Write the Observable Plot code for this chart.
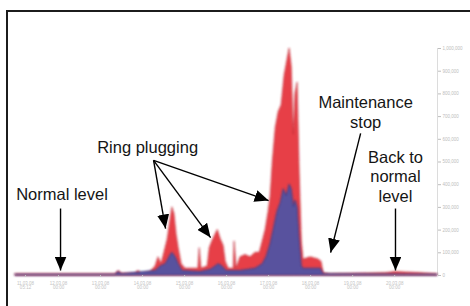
<!DOCTYPE html>
<html><head><meta charset="utf-8">
<script src="https://cdn.jsdelivr.net/npm/d3@7"></script>
<script src="https://cdn.jsdelivr.net/npm/@observablehq/plot@0.6"></script>
<style>
html,body{margin:0;padding:0;background:#fff;overflow:hidden;}
#wrap{position:relative;width:470px;height:306px;}
#frame{position:absolute;left:6px;top:10px;width:520px;height:400px;border:2px solid #1c1c1c;box-sizing:border-box;pointer-events:none;}
#chart{position:absolute;left:0;top:0;}
</style></head><body>
<div id="wrap"><div id="chart"></div><div id="frame"></div></div>
<script>
// Series (x in days, y in relative units 0–100)
const redDays   = [-1.02,0.05,1.36,1.43,1.50,1.83,1.90,1.98,2.19,2.31,2.38,2.45,2.52,2.60,2.67,2.71,2.76,2.81,2.86,2.93,3.02,3.33,3.36,3.40,3.55,3.60,3.64,3.71,3.79,3.86,3.93,3.98,4.05,4.17,4.19,4.24,4.33,4.45,4.57,4.69,4.79,4.86,4.93,5.00,5.05,5.10,5.17,5.24,5.31,5.38,5.45,5.50,5.55,5.60,5.64,5.69,5.74,5.79,5.83,6.00,6.19,6.26,6.31,6.48,7.79,8.02,8.38,8.62,9.02];
const redValues = [0.5,0.5,0.5,2,0.8,0.8,2,0.8,1.5,4,8,5,10,16,25,30,27,18,12,5,3,3,12,3,4,12,14,17,20,16,13,6,3,3,15,3,8,9,8,10,10,15,20,28,35,50,65,72,75,88,95,100,92,62,80,85,45,15,7,8,7,6,1,0.5,1,1.5,1.2,1,0.5];
const blueDays   = [-1.02,1.36,1.43,1.50,2.31,2.43,2.55,2.67,2.71,2.79,2.86,2.95,3.38,3.62,3.74,3.81,3.90,4.00,4.33,4.69,4.86,4.95,5.05,5.12,5.21,5.29,5.36,5.43,5.50,5.55,5.60,5.64,5.69,5.74,5.79,5.83,6.24,6.31,9.02];
const blueValues = [0.3,0.3,1.5,0.5,2,4,5,9,10,8,5,2,1.5,2.5,4,5,4,2,2,3,5,8,14,20,28,32,38,35,40,38,30,33,30,15,4,3,3,0.5,0.3];

// Axes
const xTicks = [-0.786,0,1,2,3,4,5,6,7,8];
const xTickLabels = ["11.03.08\n05:12","12.03.08\n00:00","13.03.08\n00:00","14.03.08\n00:00","15.03.08\n00:00","16.03.08\n00:00","17.03.08\n00:00","18.03.08\n00:00","19.03.08\n00:00","20.03.08\n00:00"];
const yTicks = [0,10,20,30,40,50,60,70,80,90,100];
const yTickLabels = ["0","100,000","200,000","300,000","400,000","500,000","600,000","700,000","800,000","900,000","1,000,000"];

// Annotations
const annLabels = ["Normal level","Ring plugging","Maintenance","stop","Back to","normal","level"];
const annDays   = [0.083,2.12,7.31,7.31,8.02,8.02,8.02];
const annValues = [35.4,56.5,76.3,67.5,52.1,43.3,34.5];
const arrowFromDay   = [0.048,2.262,2.262,2.262,7.19,8.02];
const arrowFromValue = [29.5,50.7,50.7,50.7,62.6,29.5];
const arrowToDay     = [0.048,2.548,3.619,5.0,6.476,8.02];
const arrowToValue   = [2.2,20.7,16.7,33.0,10.1,2.2];

const red = redDays.map((d,i)=>({day:d, v:redValues[i]}));
const blue = blueDays.map((d,i)=>({day:d, v:blueValues[i]}));
const ann = annLabels.map((t,i)=>({t, day:annDays[i], v:annValues[i]}));
const arrows = arrowFromDay.map((d,i)=>({x1:d,y1:arrowFromValue[i],x2:arrowToDay[i],y2:arrowToValue[i]}));
const xMin = -1.024, xMax = 9.02;

const svg = Plot.plot({
  width: 470, height: 306,
  marginLeft: 15, marginRight: 33, marginTop: 48, marginBottom: 31,
  style: {fontFamily: "'Liberation Sans', Arial, sans-serif", background: "transparent"},
  x: {domain: [xMin, xMax]},
  y: {domain: [0, 100]},
  marks: [
    Plot.ruleY([0], {stroke: "#ecd3da", strokeWidth: 1.5}),
    Plot.ruleX([xMax], {y1: 0, y2: 100, stroke: "#dcdcdc"}),
    Plot.areaY(red, {x: "day", y: "v", fill: "#e4262d", fillOpacity: 0.88, stroke: "#b81e2b", strokeWidth: 0.6}),
    Plot.areaY(blue, {x: "day", y: "v", fill: "#4454aa", fillOpacity: 0.88, stroke: "#2f3a8a", strokeWidth: 0.8}),
    Plot.axisY({anchor: "right", ticks: yTicks, tickFormat: (d,i)=>yTickLabels[i], tickSize: 3, tickPadding: 2, fontSize: 4.5, color: "#bdbdbd", label: null}),
    Plot.axisX({ticks: xTicks, tickFormat: (d,i)=>xTickLabels[i], tickSize: 2, tickPadding: 4, fontSize: 4.5, color: "#c4c4c4", label: null}),
    Plot.link(arrows, {x1: "x1", y1: "y1", x2: "x2", y2: "y2", stroke: "#000", strokeWidth: 1.4}),
    Plot.text(ann, {x: "day", y: "v", text: "t", fontSize: 16.5, fill: "#151515"})
  ]
});

// filled arrow heads and a soft blur on the areas
const s = d3.select(svg);
const defs = s.insert("defs", ":first-child");
defs.append("marker").attr("id","head").attr("markerUnits","userSpaceOnUse")
  .attr("markerWidth",16).attr("markerHeight",12).attr("refX",14).attr("refY",6).attr("orient","auto")
  .append("path").attr("d","M0,0L14,6L0,12Z").attr("fill","#000");
defs.append("filter").attr("id","soft").attr("x","-10%").attr("y","-10%").attr("width","120%").attr("height","120%")
  .append("feGaussianBlur").attr("stdDeviation",1.0);
s.selectAll('g[aria-label="link"] path').attr("marker-end","url(#head)");
s.selectAll('g[aria-label="area"]').attr("filter","url(#soft)");
document.getElementById("chart").appendChild(svg);
</script>
</body></html>
